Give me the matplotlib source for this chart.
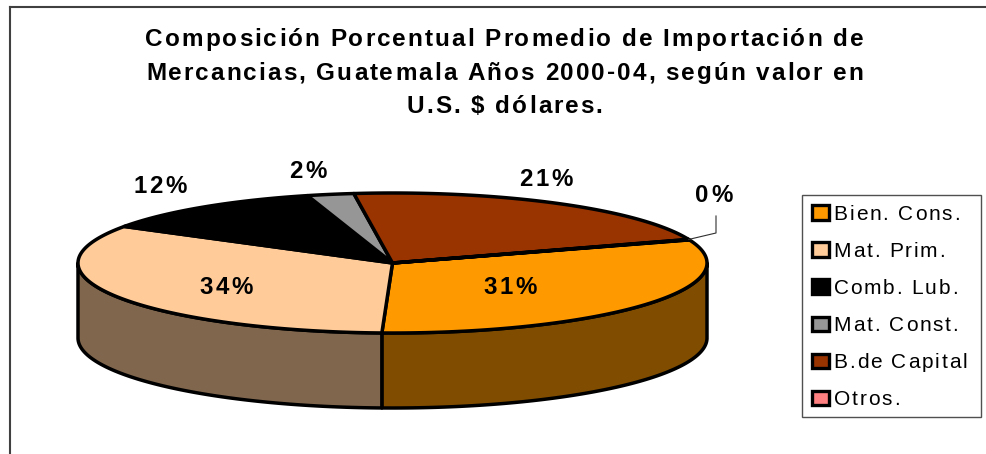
import numpy as np
import matplotlib
matplotlib.use("Agg")
import matplotlib.pyplot as plt
from matplotlib.patches import Patch, Rectangle
from matplotlib.lines import Line2D
from matplotlib.text import Text
from matplotlib.font_manager import findfont, get_font
from matplotlib.ft2font import LoadFlags

W, H = 987, 454
plt.rcParams['font.family'] = ['Liberation Sans', 'DejaVu Sans']

categories = ["Bien. Cons.", "Mat. Prim.", "Comb. Lub.", "Mat. Const.", "B.de Capital", "Otros."]
shares = [30.9, 33.2, 11.9, 2.4, 21.5, 0.1]
pct_labels = ["31%", "34%", "12%", "2%", "21%", "0%"]
top_colors = ["#FF9900", "#FFCC99", "#000000", "#969696", "#993300", "#FF8080"]
side_colors = ["#804D00", "#80664D", "#000000", "#4B4B4B", "#4D1A00", "#804040"]
title = ("Composición Porcentual Promedio de Importación de\n"
         "Mercancias, Guatemala Años 2000-04, según valor en\n"
         "U.S. $ dólares.")

START_DEG = 19.3
DEPTH = 75 / 70
LW = 2.5


class TrackedText(Text):
    """Text artist that keeps its whole string but draws it with letter spacing."""
    tracking = 0.0

    def draw(self, renderer):
        if not self.get_visible() or not self.get_text():
            return
        _, info, _ = self._get_layout(renderer)
        posx, posy = self.get_transform().transform(self.get_unitless_position())
        canvash = renderer.get_canvas_width_height()[1]
        prop = self.get_fontproperties()
        font = get_font(findfont(prop))
        font.set_size(prop.get_size_in_points(), renderer.points_to_pixels(72))
        gc = renderer.new_gc()
        gc.set_foreground(self.get_color())
        gc.set_antialiased(True)
        ha = self.get_ha()
        for line, _, x, y in info:
            n = max(len(line) - 1, 0)
            extra = self.tracking * n
            cx = posx + x - (extra / 2 if ha == "center" else 0)
            cy = canvash - (posy + y)
            for ch in line:
                if not ch.isspace():
                    renderer.draw_text(gc, cx, cy, ch, prop, 0)
                glyph = font.load_char(ord(ch), flags=LoadFlags.NO_HINTING)
                cx += glyph.linearHoriAdvance / 65536 + self.tracking
        gc.restore()


def tracked(x, y, s, tracking, **kw):
    t = TrackedText(x, y, s, transform=fig.transFigure, figure=fig, **kw)
    t.tracking = tracking
    fig.add_artist(t)
    return t


fig = plt.figure(figsize=(W / 100, H / 100), dpi=100, facecolor="white")

def fx(x): return x / W
def fy(y): return 1 - y / H

# frame
for xs, ys in (([9.5, 9.5], [6.5, H]), ([9.5, W], [6.5, 6.5])):
    fig.add_artist(Line2D([fx(v) for v in xs], [fy(v) for v in ys], color="#404040", lw=1.5))

# pie axes: x in [-1, 1] spans the ellipse width, y = +-1 the ellipse height
left, right, top, bottom = 78, 707, 193, 408
ax = fig.add_axes([fx(left), fy(bottom), (right - left) / W, (bottom - top) / H])
ax.set_xlim(-1, 1)
ax.set_ylim(-1 - DEPTH, 1)
ax.axis("off")

vals = np.array(shares, dtype=float)
spans = vals / vals.sum() * 360
edges = START_DEG - np.concatenate([[0], np.cumsum(spans)])

def arc(a0, a1):
    t = np.radians(np.linspace(a0, a1, max(int(abs(a1 - a0) * 2), 2)))
    return np.cos(t), np.sin(t)

# side faces (only the front half of the rim is visible)
for i in range(len(vals)):
    a0, a1 = edges[i], edges[i + 1]
    lo, hi = max(a1, -180), min(a0, 0)
    if hi > lo:
        x, y = arc(hi, lo)
        ax.fill(np.r_[x, x[::-1]], np.r_[y, y[::-1] - DEPTH], facecolor=side_colors[i],
                edgecolor="black", lw=LW, joinstyle="round", clip_on=False, zorder=2)

# top faces
for i in range(len(vals)):
    x, y = arc(edges[i], edges[i + 1])
    ax.fill(np.r_[0, x], np.r_[0, y], facecolor=top_colors[i], edgecolor="black",
            lw=LW, joinstyle="round", clip_on=False, zorder=3)

# percentage labels (pixel positions of the label centres)
label_pos = [(510, 288), (226, 288), (160, 186), (308, 172), (546, 180), (714, 196)]
for s, (px, py) in zip(pct_labels, label_pos):
    tracked(fx(px), fy(py), s, 2.7, ha="center", va="center", fontsize=17.3,
            fontweight="bold", color="black", zorder=6)

# leader for the 0% label
t0 = np.radians(edges[-2])
p0 = ax.transData.transform((np.cos(t0), np.sin(t0)))
lx = [p0[0] / W, fx(716), fx(716)]
ly = [p0[1] / H, fy(233), fy(216)]
fig.add_artist(Line2D(lx, ly, color="#303030", lw=0.8, zorder=6))

# title
tracked(fx(505), fy(73), title, 2.04, ha="center", va="center", fontsize=17.5, fontweight="bold",
        linespacing=1.56, color="black")

# legend
fig.add_artist(Rectangle((fx(802), fy(417)), 179 / W, 222 / H, transform=fig.transFigure,
                         facecolor="white", edgecolor="#505050", lw=1.0, zorder=4))
handles = [Patch(facecolor=c, edgecolor="black", lw=2.4) for c in top_colors]
leg = fig.legend(handles, categories, loc="upper left", bbox_to_anchor=(fx(803), fy(196)),
                 borderaxespad=0, frameon=False, fontsize=15, handlelength=0.85, handleheight=0.7,
                 handletextpad=0.2, labelspacing=0.87, borderpad=0.42)
leg.set_zorder(5)
for t in leg.get_texts():
    t.__class__ = TrackedText
    t.tracking = 1.8

fig.savefig("out.png", dpi=100)
